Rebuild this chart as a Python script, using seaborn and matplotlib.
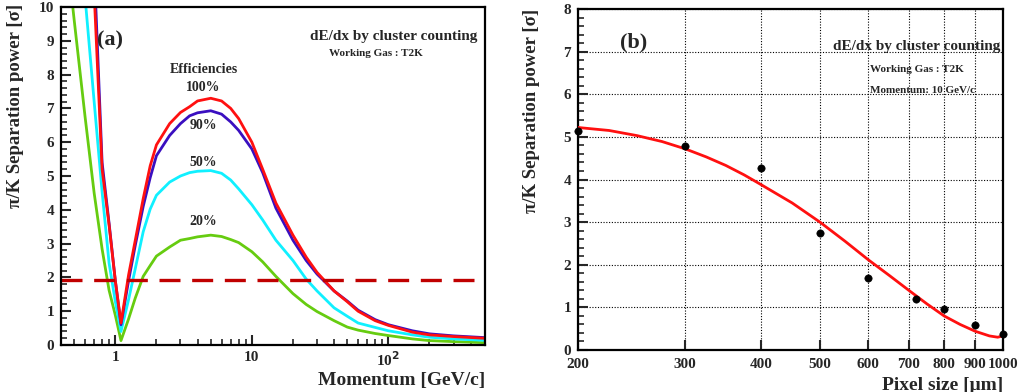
import numpy as np
import pandas as pd
import matplotlib
matplotlib.use("Agg")
import matplotlib.pyplot as plt
import seaborn as sns
from matplotlib.ticker import FixedLocator, NullFormatter, MultipleLocator, FixedFormatter

# ---------------- data: panel (a) ----------------
momentum = [0.45, 0.5, 0.6, 0.7, 0.8, 0.9, 1.0, 1.1, 1.25, 1.4, 1.6, 1.8, 2.0, 2.5, 3, 3.5, 4, 5, 6, 7, 8,
            10, 12, 15, 20, 25, 30, 40, 50, 60, 80, 100, 150, 200, 300, 500]
sep_100 = [27, 23, 16.3, 10.4, 5.2, 3.55, 1.9, 0.65, 2.07, 3.1, 4.33, 5.3, 5.92, 6.55, 6.88, 7.05, 7.22, 7.3, 7.22, 7.0, 6.7,
           6.0, 5.2, 4.2, 3.25, 2.6, 2.15, 1.6, 1.28, 1.0, 0.72, 0.58, 0.38, 0.3, 0.25, 0.2]
sep_90 = [28, 24, 17, 11.2, 5.4, 3.6, 1.9, 0.6, 1.9, 2.95, 4.1, 4.95, 5.6, 6.2, 6.55, 6.78, 6.87, 6.93, 6.83, 6.6, 6.35,
          5.8, 5.1, 4.05, 3.1, 2.5, 2.1, 1.6, 1.3, 1.03, 0.75, 0.6, 0.42, 0.33, 0.27, 0.22]
sep_50 = [15, 13.5, 10.3, 7.19, 4.53, 2.42, 1.28, 0.4, 1.34, 2.26, 3.35, 4.02, 4.43, 4.82, 5.0, 5.1, 5.14, 5.16, 5.08, 4.88, 4.62,
          4.15, 3.7, 3.1, 2.5, 1.95, 1.6, 1.1, 0.85, 0.65, 0.52, 0.42, 0.3, 0.23, 0.18, 0.14]
sep_20 = [11.3, 9.6, 6.76, 4.49, 2.84, 1.62, 0.88, 0.13, 0.77, 1.39, 2.03, 2.35, 2.63, 2.9, 3.1, 3.15, 3.2, 3.25, 3.21, 3.12, 3.03,
          2.76, 2.46, 2.03, 1.52, 1.2, 0.99, 0.72, 0.53, 0.44, 0.34, 0.28, 0.18, 0.13, 0.1, 0.07]
efficiencies = ["100%", "90%", "50%", "20%"]
threshold = 1.92

# ---------------- data: panel (b) ----------------
pixel_size = [200, 300, 400, 500, 600, 720, 800, 900, 1000]
sep_pixel = [5.13, 4.78, 4.28, 2.75, 1.70, 1.20, 0.97, 0.58, 0.37]
fit_pixel = [200, 225, 250, 275, 300, 325, 350, 375, 400, 450, 500, 550, 600, 650, 700, 750, 800, 850, 900, 950, 980, 1000]
fit_sep = [5.22, 5.15, 5.03, 4.89, 4.72, 4.53, 4.33, 4.11, 3.88, 3.45, 3.00, 2.55, 2.12, 1.75, 1.40, 1.08, 0.80, 0.60, 0.44, 0.33, 0.30, 0.33]
pixel_ticks = [200, 300, 400, 500, 600, 700, 800, 900, 1000]

# ---------------- style ----------------
sns.set_style("ticks")
plt.rcParams['font.family'] = ['Liberation Serif', 'DejaVu Serif']
plt.rcParams['font.weight'] = 'bold'
plt.rcParams['axes.labelweight'] = 'bold'
plt.rcParams['xtick.direction'] = 'in'
plt.rcParams['ytick.direction'] = 'in'

colors = {"100%": "#ff1010", "90%": "#3a0fc0", "50%": "#10f0ff", "20%": "#66cc10"}

fig = plt.figure(figsize=(10.22, 3.92), dpi=100)
ax1 = fig.add_axes([61/1022, 1-345/392, 424/1022, 338/392])
ax2 = fig.add_axes([578/1022, 1-350/392, 425/1022, 341/392])

# ---------------- panel (a) ----------------
rows = []
for eff, vals in zip(efficiencies, [sep_100, sep_90, sep_50, sep_20]):
    for p, v in zip(momentum, vals):
        rows.append({"p": p, "sep": v, "eff": eff})
df = pd.DataFrame(rows)
for eff in ["20%", "50%", "90%", "100%"]:
    sub = df[df.eff == eff]
    sns.lineplot(data=sub, x="p", y="sep", color=colors[eff], lw=2.0, ax=ax1,
                 sort=False, estimator=None, legend=False)
ax1.axhline(threshold, color="#c00000", lw=2.4, dashes=(6.3, 3.5))

ax1.set_xscale("log")
ax1.set_xlim(0.4, 510)
ax1.set_ylim(0, 10)
ax1.xaxis.set_major_locator(FixedLocator([1, 10, 100]))
ax1.xaxis.set_major_formatter(FixedFormatter(["1", "10", "10$^{2}$"]))
minor = [m * d for d in [0.1, 1, 10, 100] for m in range(2, 10) if 0.4 <= m * d <= 510]
ax1.xaxis.set_minor_locator(FixedLocator(minor))
ax1.xaxis.set_minor_formatter(NullFormatter())
ax1.yaxis.set_major_locator(MultipleLocator(1))
ax1.yaxis.set_minor_locator(MultipleLocator(0.2))
ax1.tick_params(which="major", length=7, width=1.5, labelsize=11, pad=5)
ax1.tick_params(which="minor", length=4, width=1.2)
ax1.tick_params(axis="x", which="major", pad=4)
for s in ax1.spines.values():
    s.set_linewidth(1.6)
    s.set_color("black")
ax1.set_xlabel("Momentum [GeV/c]", fontsize=14, loc="right")
ax1.xaxis.set_label_coords(1.0, -0.08)
ax1.set_ylabel("π/K Separation power [σ]", fontsize=13.5, loc="top")
ax1.yaxis.set_label_coords(-0.088, 1.01)

ax1.text(0.116, 0.902, "(a)", transform=ax1.transAxes, fontsize=16, ha="center", va="center")
ax1.text(0.983, 0.914, "dE/dx by cluster counting", transform=ax1.transAxes, fontsize=11, ha="right", va="center")
ax1.text(0.632, 0.861, "Working Gas : T2K", transform=ax1.transAxes, fontsize=8, ha="left", va="center")
ax1.text(4.42, 8.14, "Efficiencies", fontsize=10, ha="center", va="center")
ax1.text(4.42, 7.63, "100%", fontsize=10, ha="center", va="center")
ax1.text(4.42, 6.50, "90%", fontsize=10, ha="center", va="center")
ax1.text(4.42, 5.41, "50%", fontsize=10, ha="center", va="center")
ax1.text(4.42, 3.64, "20%", fontsize=10, ha="center", va="center")

# ---------------- panel (b) ----------------
df_fit = pd.DataFrame({"pix": fit_pixel, "sep": fit_sep})
df_pts = pd.DataFrame({"pix": pixel_size, "sep": sep_pixel})
sns.lineplot(data=df_fit, x="pix", y="sep", color="#ff1010", lw=2.0, ax=ax2, estimator=None, zorder=3)
sns.scatterplot(data=df_pts, x="pix", y="sep", color="black", s=28, edgecolor="black", ax=ax2, zorder=4, clip_on=False)

ax2.set_xscale("log")
ax2.set_xlim(200, 1000)
ax2.set_ylim(0, 8)
ax2.xaxis.set_major_locator(FixedLocator(pixel_ticks))
ax2.xaxis.set_major_formatter(FixedFormatter([str(t) for t in pixel_ticks]))
ax2.xaxis.set_minor_locator(FixedLocator([]))
ax2.xaxis.set_minor_formatter(NullFormatter())
ax2.yaxis.set_major_locator(MultipleLocator(1))
ax2.yaxis.set_minor_locator(MultipleLocator(0.2))
ax2.grid(True, which="major", color="black", linestyle=(0, (1, 1.5)), lw=0.8)
ax2.tick_params(which="major", length=7, width=1.5, labelsize=11, pad=5)
ax2.tick_params(which="minor", length=4, width=1.2)
ax2.tick_params(axis="x", which="major", pad=6)
for s in ax2.spines.values():
    s.set_linewidth(1.6)
    s.set_color("black")
ax2.set_xlabel("Pixel size [μm]", fontsize=14, loc="right")
ax2.xaxis.set_label_coords(1.0, -0.078)
ax2.set_ylabel("π/K Separation power [σ]", fontsize=13.5, loc="top")
ax2.yaxis.set_label_coords(-0.09, 1.0)

ax2.text(0.132, 0.903, "(b)", transform=ax2.transAxes, fontsize=16, ha="center", va="center")
ax2.text(0.993, 0.889, "dE/dx by cluster counting", transform=ax2.transAxes, fontsize=11, ha="right", va="center")
ax2.text(0.687, 0.824, "Working Gas : T2K", transform=ax2.transAxes, fontsize=8, ha="left", va="center")
ax2.text(0.687, 0.762, "Momentum: 10 GeV/c", transform=ax2.transAxes, fontsize=8, ha="left", va="center")

fig.savefig("out.png", dpi=100)
